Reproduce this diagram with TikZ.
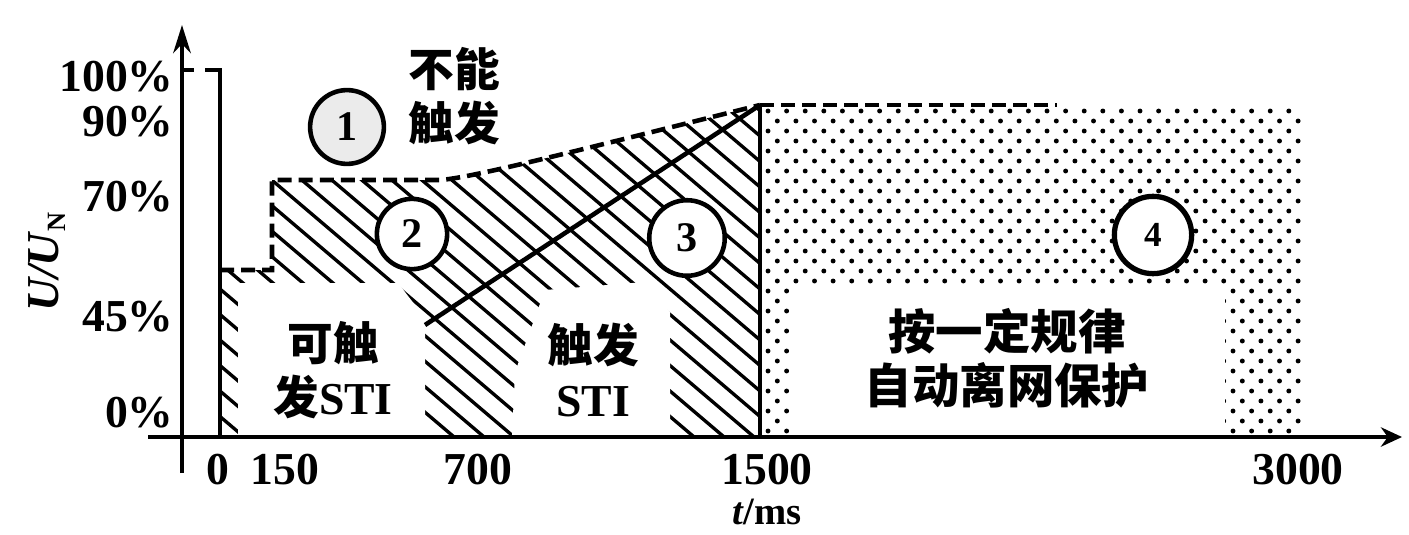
\documentclass[tikz,border=0pt]{standalone}
\usepackage{fontspec}
\setmainfont{Liberation Serif}
\newfontfamily\cjk{Noto Sans CJK SC}
\usetikzlibrary{arrows.meta}
\begin{document}
\begin{tikzpicture}[x=0.02cm,y=-0.02cm,
  axis/.style={line width=2.3pt},
  bound/.style={line width=2.6pt},
  dashbound/.style={line width=2.6pt, dash pattern=on 8pt off 4pt},
  hatchline/.style={line width=1.9pt},
  num/.style={circle, draw, line width=2.6pt, fill=white, inner sep=0pt, minimum size=42pt, font=\bfseries\fontsize{24}{24}\selectfont},
  lab/.style={font=\bfseries\fontsize{26}{26}\selectfont, inner sep=0pt},
  cn/.style={font=\cjk\bfseries\fontsize{26}{31}\selectfont, align=center, inner sep=0pt}]

\useasboundingbox (0,0) rectangle (1409,534);

% hatched band (regions 2 and 3)
\begin{scope}
\clip (220,437) -- (220,270) -- (272,270) -- (272,180) -- (440,180) .. controls (470,178) and (560,155) .. (760,105) -- (760,437) -- cycle;
\foreach \i in {-14,...,22} \draw[hatchline] (60+30*\i,0) -- ++(600,510);
\end{scope}
\fill[white] (238,437) -- (238,283) -- (398,283) -- (425,318) -- (425,437) -- cycle;
\fill[white] (512,437) -- (515,372) -- (545,290) -- (645,282) -- (670,312) -- (670,437) -- cycle;

% dotted region 4
\begin{scope}
\clip (760,105) rectangle (1302,437);
\foreach \r in {0,...,32}{
  \pgfmathsetmacro{\off}{mod(\r,2)*9.3}
  \foreach \c in {0,...,28}{
    \fill (768+\off+18.6*\c, 111+10*\r) circle[radius=1.4pt];
  }
}
\end{scope}
\fill[white] (790,287) rectangle (1225,437);

% boundaries
\draw[dashbound] (220,270) -- (272,270) -- (272,180) -- (440,180) .. controls (470,178) and (560,155) .. (760,105);
\draw[dashbound] (760,105) -- (1057,105);
\draw[bound] (760,105) -- (760,437);
\draw[bound] (205,70) -- (220,70) -- (220,437);
\draw[axis] (182,70) -- (194,70);
\draw[bound] (425,325) -- (760,105);

% axes
\coordinate (ybot) at (182,473);
\coordinate (ytop) at (182,25);
\draw[axis,-{Stealth[length=16pt,width=10pt]}] (ybot) -- (ytop);
\coordinate (xl) at (148,437);
\coordinate (xr) at (1402,437);
\draw[axis,-{Stealth[length=12pt,width=11pt]}] (xl) -- (xr);

% circled numbers
\node[num, fill=black!8] (c1) at (347,127) {1};
\node[num, minimum size=40pt] (c2) at (412,234) {2};
\node[num, minimum size=43pt] (c3) at (687,238) {3};
\node[num, minimum size=44pt, line width=3pt, font=\bfseries\fontsize{20}{20}\selectfont] (c4) at (1153,235) {4};

% region texts
\node[cn] (t1) at (454,96) {不能\\触发};
\node[cn] (t2) at (333,370) {可触\\发{\rmfamily STI}};
\node[cn] (t3) at (593,370) {触发\\{\rmfamily STI}};
\node[cn, font=\cjk\bfseries\fontsize{27}{31}\selectfont] (t4) at (1007,358) {按一定规律\\自动离网保护};

% y labels
\node[lab, anchor=east] (l100) at (174,77) {100\%};
\node[lab, anchor=east] (l90) at (174,122) {90\%};
\node[lab, anchor=east] (l70) at (174,197) {70\%};
\node[lab, anchor=east] (l45) at (174,317) {45\%};
\node[lab, anchor=east] (l0) at (174,413) {0\%};
\node[lab, rotate=90] (ylab) at (47,262) {\textit{U/U}\raisebox{-0.35ex}{\fontsize{15}{15}\selectfont N}};

% x labels
\node[lab, anchor=base] (x0) at (218,484) {0};
\node[lab, anchor=base] (x150) at (285,484) {150};
\node[lab, anchor=base] (x700) at (478,484) {700};
\node[lab, anchor=base] (x1500) at (767,484) {1500};
\node[lab, anchor=base] (x3000) at (1298,484) {3000};
\node[lab, anchor=base, font=\bfseries\fontsize{22}{22}\selectfont] (xlab) at (767,524) {\textit{t}/ms};
\end{tikzpicture}
\end{document}
